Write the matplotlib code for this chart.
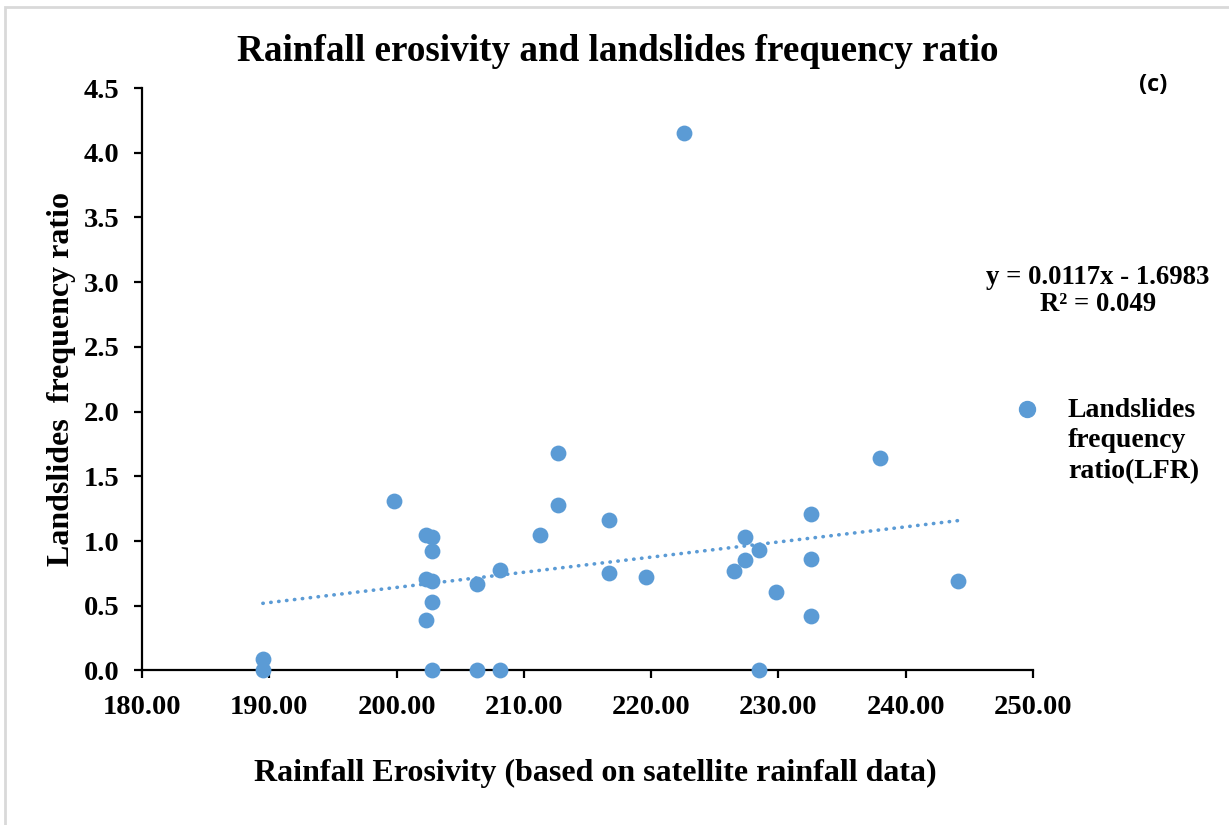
import matplotlib.pyplot as plt
from matplotlib.patches import Rectangle

# rainfall erosivity (x) vs landslides frequency ratio (y)
erosivity = [189.5, 189.5, 199.8, 202.3, 202.8, 202.8, 202.3, 202.8, 202.8, 202.3,
             202.8, 206.3, 208.1, 206.3, 208.1, 211.3, 212.7, 212.7, 216.7, 216.7,
             219.6, 222.6, 226.5, 227.4, 227.4, 228.5, 229.8, 232.6, 232.6, 232.6,
             228.5, 238.0, 244.1]
lfr = [0.09, 0.0, 1.31, 1.05, 1.03, 0.92, 0.71, 0.69, 0.53, 0.39,
       0.0, 0.0, 0.0, 0.67, 0.78, 1.05, 1.68, 1.28, 1.16, 0.75,
       0.72, 4.15, 0.77, 1.03, 0.85, 0.93, 0.61, 1.21, 0.86, 0.42,
       0.0, 1.645, 0.69]

# linear trendline as printed on the chart
slope = 0.0117
intercept = -1.6983
r2 = 0.049

xticks = [180, 190, 200, 210, 220, 230, 240, 250]
yticks = [0.0, 0.5, 1.0, 1.5, 2.0, 2.5, 3.0, 3.5, 4.0, 4.5]

blue = "#5B9BD5"
serif = "Liberation Serif"

fig = plt.figure(figsize=(12.29, 8.25), dpi=100)
ax = fig.add_axes([0.1155, 0.1873, 0.7250, 0.7060])

ax.scatter(erosivity, lfr, s=130, color=blue, zorder=3, clip_on=False,
           linewidths=0)

x_line = [min(erosivity), max(erosivity)]
y_line = [slope * v + intercept for v in x_line]
ax.plot(x_line, y_line, color=blue, lw=2.6, linestyle=(0, (0.1, 2.1)),
        dash_capstyle="round", zorder=2)

ax.set_xlim(180, 250)
ax.set_ylim(0, 4.5)
ax.set_xticks(xticks)
ax.set_xticklabels(["%.2f" % v for v in xticks])
ax.set_yticks(yticks)
ax.set_yticklabels(["%.1f" % v for v in yticks])

for side in ["top", "right"]:
    ax.spines[side].set_visible(False)
for side in ["left", "bottom"]:
    ax.spines[side].set_linewidth(1.6)
    ax.spines[side].set_color("black")

ax.tick_params(direction="out", length=6, width=1.6)
ax.tick_params(axis="x", pad=12)
ax.tick_params(axis="y", pad=10)
for lab in ax.get_xticklabels() + ax.get_yticklabels():
    lab.set_fontfamily(serif)
    lab.set_fontweight("bold")
    lab.set_fontsize(20.5)

ax.set_xlabel("Rainfall Erosivity (based on satellite rainfall data)",
              fontfamily=serif, fontweight="bold", fontsize=23, labelpad=28)
ax.xaxis.label.set_x(0.509)
ax.set_ylabel("Landslides  frequency ratio", fontfamily=serif,
              fontweight="bold", fontsize=23, labelpad=6)

fig.text(0.503, 0.937, "Rainfall erosivity and landslides frequency ratio",
         ha="center", va="center", fontfamily=serif, fontweight="bold",
         fontsize=26.7)
fig.text(0.938, 0.897, "(c)", ha="center", va="center",
         fontfamily="Open Sans", fontweight="bold", fontsize=17)

fig.text(0.8935, 0.647, "y = 0.0117x - 1.6983\nR\u00b2 = %.3f" % r2,
         ha="center", va="center", fontfamily=serif, fontweight="bold",
         fontsize=19.3, linespacing=1.08)

# legend drawn by hand to match the layout
fig.lines.append(plt.Line2D([1027 / 1229], [1 - 409 / 825], marker="o",
                            markersize=11.5, color=blue, linestyle="none",
                            transform=fig.transFigure))
fig.text(1068 / 1229, 1 - 398 / 825, "Landslides\nfrequency\nratio(LFR)",
         ha="left", va="top", fontfamily=serif, fontweight="bold",
         fontsize=20, linespacing=1.28)

# thin grey frame around the chart area
fig.patches.append(Rectangle((5 / 1229, -0.05), 1.1, 1 - 7 / 825 + 0.05,
                             transform=fig.transFigure, fill=False,
                             edgecolor="#d9d9d9", lw=2))

fig.savefig("out.png", dpi=100)
